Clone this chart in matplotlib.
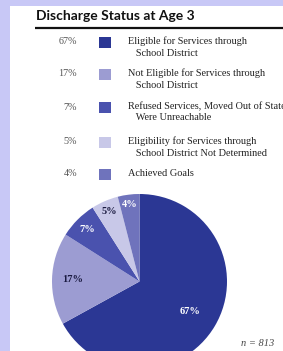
import matplotlib
matplotlib.use("Agg")
import matplotlib.pyplot as plt
import numpy as np
from matplotlib.patches import Rectangle

# data
title = "Discharge Status at Age 3"
shares = [67, 17, 7, 5, 4]
pct_labels = ["67%", "17%", "7%", "5%", "4%"]
categories = [
    "Eligible for Services through\n   School District",
    "Not Eligible for Services through\n   School District",
    "Refused Services, Moved Out of State,\n   Were Unreachable",
    "Eligibility for Services through\n   School District Not Determined",
    "Achieved Goals",
]
n_total = 813

colors = ["#2b3794", "#9c9cd2", "#4a52ae", "#c8c8e8", "#6f73bc"]
label_colors = ["white", "#1a1a40", "white", "#1a1a40", "white"]
label_dist = [0.67, 0.76, 0.84, 0.87, 0.89]

W, H = 283, 351
fig = plt.figure(figsize=(W / 100, H / 100), dpi=100)
fig.patch.set_facecolor("#c8c8f6")
ax = fig.add_axes([0, 0, 1, 1])
ax.set_xlim(0, W)
ax.set_ylim(0, H)
ax.axis("off")

def Y(y):
    # pixel row (from top) -> data y
    return H - y

# white panel
ax.add_patch(Rectangle((10, 0), W - 10, Y(6), facecolor="white", edgecolor="none", zorder=0))

# title and rule
ax.text(36, Y(16), title, fontsize=10, fontweight="bold", family="Lato",
        color="#111111", va="center", ha="left")
ax.plot([35, W], [Y(28), Y(28)], color="#111111", lw=1.6, solid_capstyle="butt")

# legend rows
row_y = [42, 74, 107, 142, 174]
for yy, p, c, lab in zip(row_y, pct_labels, colors, categories):
    ax.text(77, Y(yy), p, fontsize=7.3, family="Liberation Serif", color="#555555",
            ha="right", va="center")
    ax.add_patch(Rectangle((99, Y(yy) - 5.5), 12, 11, facecolor=c, edgecolor="none"))
    ax.text(128, Y(yy) + 5.5, lab, fontsize=7.4, family="Liberation Serif", color="#222222",
            ha="left", va="top", linespacing=1.35)

# pie
cx, cy, r = 139.5, Y(281.5), 87.5
wedges, texts, autotexts = ax.pie(shares, colors=colors, startangle=90, counterclock=False,
                                  center=(cx, cy), radius=r, frame=True,
                                  autopct=lambda v: "", wedgeprops=dict(linewidth=0))
for w, lab, col, d in zip(wedges, pct_labels, label_colors, label_dist):
    ang = np.deg2rad((w.theta1 + w.theta2) / 2)
    ax.text(cx + d * r * np.cos(ang), cy + d * r * np.sin(ang), lab, fontsize=7.5,
            fontweight="bold", family="Liberation Serif", color=col, ha="center", va="center")
for t in autotexts:
    t.set_visible(False)

ax.set_xlim(0, W)
ax.set_ylim(0, H)
ax.set_aspect("auto")
ax.axis("off")

ax.text(258, Y(343), f"n = {n_total}", fontsize=7.5, style="italic", family="Liberation Serif",
        color="#444444", ha="center", va="center")

fig.savefig("out.png", dpi=100, facecolor=fig.get_facecolor())
